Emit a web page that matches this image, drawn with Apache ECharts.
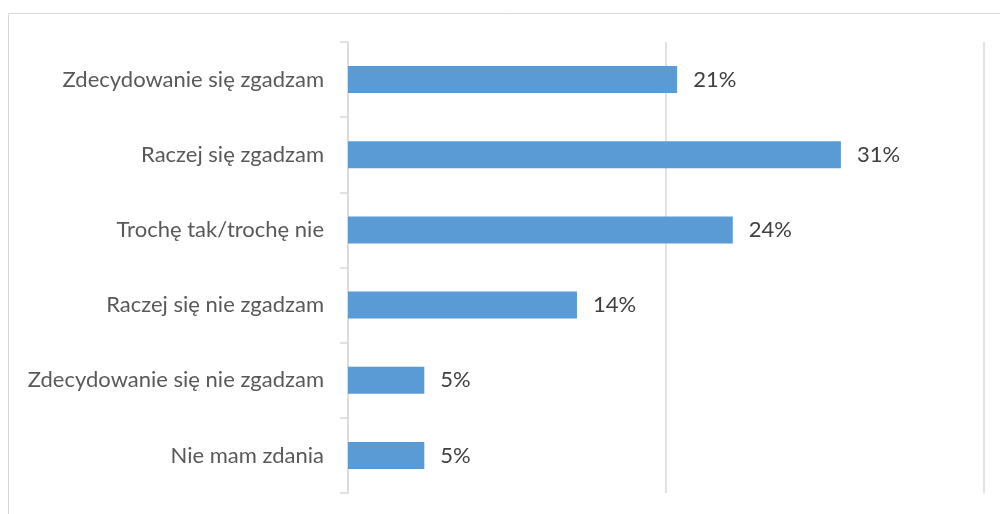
<!DOCTYPE html>
<html>
<head>
<meta charset="utf-8">
<script src="https://cdn.jsdelivr.net/npm/echarts@6/dist/echarts.min.js"></script>
<style>
  html, body { margin: 0; padding: 0; background: #fff; }
  #main { width: 1000px; height: 514px; }
</style>
</head>
<body>
<div id="main"></div>
<script>
// categories, top to bottom
const categories = [
    'Zdecydowanie się zgadzam',
    'Raczej się zgadzam',
    'Trochę tak/trochę nie',
    'Raczej się nie zgadzam',
    'Zdecydowanie się nie zgadzam',
    'Nie mam zdania'
];
// shares in percent (labels are rounded)
const shares = [20.7, 31.0, 24.2, 14.4, 4.8, 4.8];

const xTicks = [0, 20, 40];

const chart = echarts.init(document.getElementById('main'));

const font = 'Lato, "Open Sans", sans-serif';

chart.setOption({
    animation: false,
    backgroundColor: '#fff',
    grid: {
        left: 348,
        right: 16,
        top: 42,
        bottom: 21
    },
    xAxis: {
        type: 'value',
        min: xTicks[0],
        max: xTicks[xTicks.length - 1],
        interval: 20,
        axisLabel: { show: false },
        axisLine: { show: false },
        axisTick: { show: false },
        splitLine: {
            show: true,
            lineStyle: { color: '#d9d9d9', width: 1.5 }
        }
    },
    yAxis: {
        type: 'category',
        inverse: true,
        data: categories,
        axisLine: {
            show: true,
            lineStyle: { color: '#d9d9d9', width: 1.5 }
        },
        axisTick: {
            show: true,
            length: 8,
            lineStyle: { color: '#d9d9d9', width: 1.5 }
        },
        axisLabel: {
            color: '#595959',
            fontSize: 22,
            fontFamily: font,
            margin: 24
        }
    },
    series: [{
        type: 'bar',
        data: shares,
        barWidth: 27,
        itemStyle: {
            color: '#5b9bd5'
        },
        label: {
            show: true,
            position: 'right',
            distance: 16,
            color: '#404040',
            fontSize: 22,
            fontFamily: font,
            formatter: p => Math.round(p.value) + '%'
        }
    }],
    graphic: [{
        type: 'rect',
        shape: { x: 8.5, y: 13.5, width: 1100, height: 600 },
        style: { fill: 'none', stroke: '#d9d9d9', lineWidth: 1 },
        silent: true
    }]
});
</script>
</body>
</html>
